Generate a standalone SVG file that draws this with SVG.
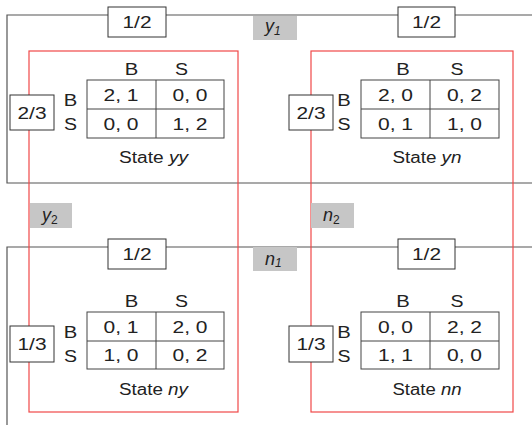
<svg xmlns="http://www.w3.org/2000/svg" width="532" height="425" viewBox="0 0 532 425">
<style>
text{font-family:"Liberation Sans",Arial,sans-serif;font-size:16px;fill:#222;text-anchor:middle}
.frame{fill:none;stroke:#555;stroke-width:1.2}
.red{fill:none;stroke:#f04848;stroke-width:1.2}
.box{fill:#fff;stroke:#333;stroke-width:1}
.grid{fill:none;stroke:#444;stroke-width:1}
.gray{fill:#c6c6c6;stroke:none}
.it{font-style:italic}
.lbl{text-anchor:start;font-style:italic;font-size:18px}
.sub{font-size:12px}
</style>
<rect width="532" height="425" fill="#fff"/>
<g id="connectors">
  <path class="frame" d="M532,15 H7 V183 H532"/>
  <path class="frame" d="M532,247 H7 V425"/>
  <rect class="red" x="29" y="51" width="209" height="361"/>
  <rect class="red" x="311" y="51" width="202" height="361"/>
</g>
<g id="label-y1"><rect class="gray" x="253" y="16" width="44" height="24"/><text x="265" y="32" class="lbl">y<tspan class="sub" dy="3">1</tspan></text></g>
<g id="label-y2"><rect class="gray" x="30" y="203" width="42" height="25"/><text x="42" y="221" class="lbl">y<tspan class="sub" dy="3" font-style="normal">2</tspan></text></g>
<g id="label-n2"><rect class="gray" x="311" y="203" width="43" height="25"/><text x="323" y="221" class="lbl">n<tspan class="sub" dy="3" font-style="normal">2</tspan></text></g>
<g id="label-n1"><rect class="gray" x="253" y="247" width="44" height="24"/><text x="265" y="265" class="lbl">n<tspan class="sub" dy="2">1</tspan></text></g>
<g id="p-top-left"><rect class="box" x="108" y="7" width="58" height="30"/><text x="137" y="28" textLength="29" lengthAdjust="spacingAndGlyphs">1/2</text></g>
<g id="p-top-right"><rect class="box" x="398" y="7" width="57" height="30"/><text x="426.5" y="28" textLength="29" lengthAdjust="spacingAndGlyphs">1/2</text></g>
<g id="p-bot-left"><rect class="box" x="108" y="239" width="58" height="30"/><text x="137" y="260" textLength="29" lengthAdjust="spacingAndGlyphs">1/2</text></g>
<g id="p-bot-right"><rect class="box" x="398" y="239" width="57" height="30"/><text x="426.5" y="260" textLength="29" lengthAdjust="spacingAndGlyphs">1/2</text></g>
<g id="state-yy">
  <rect class="box" x="10" y="95" width="44" height="35"/><text x="32" y="118.5" textLength="29" lengthAdjust="spacingAndGlyphs">2/3</text>
  <text x="131.5" y="75" textLength="13.5" lengthAdjust="spacingAndGlyphs">B</text><text x="181.5" y="75" textLength="13" lengthAdjust="spacingAndGlyphs">S</text>
  <text x="70.5" y="106" textLength="13.5" lengthAdjust="spacingAndGlyphs">B</text><text x="70.5" y="130" textLength="13" lengthAdjust="spacingAndGlyphs">S</text>
  <rect class="grid" x="87" y="80" width="137" height="58"/>
  <path class="grid" d="M156,80 V138 M87,109 H224"/>
  <text x="121" y="101" textLength="35" lengthAdjust="spacingAndGlyphs">2, 1</text><text x="190" y="101" textLength="35" lengthAdjust="spacingAndGlyphs">0, 0</text>
  <text x="121" y="130" textLength="35" lengthAdjust="spacingAndGlyphs">0, 0</text><text x="190" y="130" textLength="35" lengthAdjust="spacingAndGlyphs">1, 2</text>
  <text x="153.5" y="163" textLength="69" lengthAdjust="spacingAndGlyphs">State <tspan class="it">yy</tspan></text>
</g>
<g id="state-yn">
  <rect class="box" x="289" y="95" width="44" height="35"/><text x="311" y="118.5" textLength="29" lengthAdjust="spacingAndGlyphs">2/3</text>
  <text x="403" y="75" textLength="13.5" lengthAdjust="spacingAndGlyphs">B</text><text x="457" y="75" textLength="13" lengthAdjust="spacingAndGlyphs">S</text>
  <text x="344" y="106" textLength="13.5" lengthAdjust="spacingAndGlyphs">B</text><text x="344" y="130" textLength="13" lengthAdjust="spacingAndGlyphs">S</text>
  <rect class="grid" x="361" y="80" width="138" height="58"/>
  <path class="grid" d="M430,80 V138 M361,109 H499"/>
  <text x="395.5" y="101" textLength="35" lengthAdjust="spacingAndGlyphs">2, 0</text><text x="464.5" y="101" textLength="35" lengthAdjust="spacingAndGlyphs">0, 2</text>
  <text x="395.5" y="130" textLength="35" lengthAdjust="spacingAndGlyphs">0, 1</text><text x="464.5" y="130" textLength="35" lengthAdjust="spacingAndGlyphs">1, 0</text>
  <text x="427" y="163" textLength="69" lengthAdjust="spacingAndGlyphs">State <tspan class="it">yn</tspan></text>
</g>
<g id="state-ny">
  <rect class="box" x="10" y="326" width="44" height="36"/><text x="32" y="350" textLength="29" lengthAdjust="spacingAndGlyphs">1/3</text>
  <text x="131.5" y="307" textLength="13.5" lengthAdjust="spacingAndGlyphs">B</text><text x="181.5" y="307" textLength="13" lengthAdjust="spacingAndGlyphs">S</text>
  <text x="70.5" y="338" textLength="13.5" lengthAdjust="spacingAndGlyphs">B</text><text x="70.5" y="362" textLength="13" lengthAdjust="spacingAndGlyphs">S</text>
  <rect class="grid" x="87" y="312" width="137" height="57"/>
  <path class="grid" d="M156,312 V369 M87,341 H224"/>
  <text x="121" y="333" textLength="35" lengthAdjust="spacingAndGlyphs">0, 1</text><text x="190" y="333" textLength="35" lengthAdjust="spacingAndGlyphs">2, 0</text>
  <text x="121" y="361" textLength="35" lengthAdjust="spacingAndGlyphs">1, 0</text><text x="190" y="361" textLength="35" lengthAdjust="spacingAndGlyphs">0, 2</text>
  <text x="153.5" y="395" textLength="69" lengthAdjust="spacingAndGlyphs">State <tspan class="it">ny</tspan></text>
</g>
<g id="state-nn">
  <rect class="box" x="289" y="326" width="44" height="36"/><text x="311" y="350" textLength="29" lengthAdjust="spacingAndGlyphs">1/3</text>
  <text x="403" y="307" textLength="13.5" lengthAdjust="spacingAndGlyphs">B</text><text x="457" y="307" textLength="13" lengthAdjust="spacingAndGlyphs">S</text>
  <text x="344" y="338" textLength="13.5" lengthAdjust="spacingAndGlyphs">B</text><text x="344" y="362" textLength="13" lengthAdjust="spacingAndGlyphs">S</text>
  <rect class="grid" x="361" y="312" width="138" height="57"/>
  <path class="grid" d="M430,312 V369 M361,341 H499"/>
  <text x="395.5" y="333" textLength="35" lengthAdjust="spacingAndGlyphs">0, 0</text><text x="464.5" y="333" textLength="35" lengthAdjust="spacingAndGlyphs">2, 2</text>
  <text x="395.5" y="361" textLength="35" lengthAdjust="spacingAndGlyphs">1, 1</text><text x="464.5" y="361" textLength="35" lengthAdjust="spacingAndGlyphs">0, 0</text>
  <text x="427" y="395" textLength="69" lengthAdjust="spacingAndGlyphs">State <tspan class="it">nn</tspan></text>
</g>
</svg>
